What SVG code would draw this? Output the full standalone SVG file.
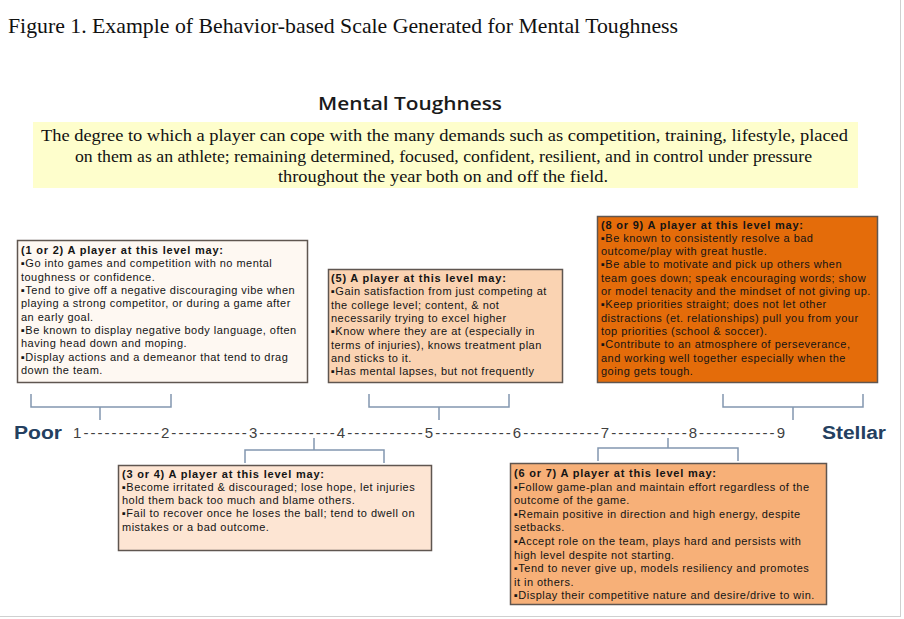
<svg xmlns="http://www.w3.org/2000/svg" width="904" height="619" viewBox="0 0 904 619">
<style>
.box{stroke:#5f5650;stroke-width:1.5}
.t{font-family:"Liberation Sans",Arial,"DejaVu Sans",sans-serif;font-size:11px;fill:#141414;letter-spacing:0.47px}
.h{font-weight:bold;letter-spacing:0.8px}
.br{fill:none;stroke:#8297b0;stroke-width:1.5}
.lbl{font-family:"Liberation Sans",Arial,sans-serif;font-weight:bold;font-size:18px;fill:#243f60}
</style>
<rect x="0" y="0" width="904" height="619" fill="#ffffff"/>
<line x1="900.5" y1="0" x2="900.5" y2="616" stroke="#d0d0d0"/>
<line x1="0" y1="616.5" x2="901" y2="616.5" stroke="#d0d0d0"/>

<g id="title">
<text x="8" y="33" font-family="'Liberation Serif','Times New Roman',serif" font-size="21" fill="#111" textLength="670" lengthAdjust="spacingAndGlyphs">Figure 1. Example of Behavior-based Scale Generated for Mental Toughness</text>
</g>

<g id="heading">
<text x="318" y="110" font-family="'Open Sans','Noto Sans',sans-serif" font-size="18" font-weight="600" fill="#1a1a1a" textLength="184" lengthAdjust="spacingAndGlyphs">Mental Toughness</text>
</g>

<g id="definition">
<rect x="33" y="122" width="825" height="66" fill="#fefecc"/>
<g font-family="'Liberation Serif','Times New Roman',serif" font-size="16" fill="#111">
<text x="41" y="141" textLength="807" lengthAdjust="spacingAndGlyphs">The degree to which a player can cope with the many demands such as competition, training, lifestyle, placed</text>
<text x="75" y="162" textLength="737" lengthAdjust="spacingAndGlyphs">on them as an athlete; remaining determined, focused, confident, resilient, and in control under pressure</text>
<text x="278" y="182" textLength="330" lengthAdjust="spacingAndGlyphs">throughout the year both on and off the field.</text>
</g>
</g>

<g id="box-1-2">
<rect class="box" x="17.5" y="240.5" width="290" height="142" fill="#fef8f2"/>
<text class="t h" x="21" y="254">(1 or 2) A player at this level may:</text>
<text class="t" x="21" y="267.3">▪Go into games and competition with no mental</text>
<text class="t" x="21" y="280.6">toughness or confidence.</text>
<text class="t" x="21" y="294">▪Tend to give off a negative discouraging vibe when</text>
<text class="t" x="21" y="307.3">playing a strong competitor, or during a game after</text>
<text class="t" x="21" y="320.6">an early goal.</text>
<text class="t" x="21" y="334">▪Be known to display negative body language, often</text>
<text class="t" x="21" y="347.3">having head down and moping.</text>
<text class="t" x="21" y="360.6">▪Display actions and a demeanor that tend to drag</text>
<text class="t" x="21" y="374">down the team.</text>
</g>

<g id="box-5">
<rect class="box" x="328.5" y="269.5" width="234" height="113" fill="#fad3b2"/>
<text class="t h" x="331" y="282">(5) A player at this level may:</text>
<text class="t" x="331" y="295.3">▪Gain satisfaction from just competing at</text>
<text class="t" x="331" y="308.6">the college level; content, &amp; not</text>
<text class="t" x="331" y="322">necessarily trying to excel higher</text>
<text class="t" x="331" y="335.3">▪Know where they are at (especially in</text>
<text class="t" x="331" y="348.6">terms of injuries), knows treatment plan</text>
<text class="t" x="331" y="362">and sticks to it.</text>
<text class="t" x="331" y="375.3">▪Has mental lapses, but not frequently</text>
</g>

<g id="box-8-9">
<rect class="box" x="597.5" y="216.5" width="280" height="166" fill="#e46c0a"/>
<text class="t h" x="601" y="228.5">(8 or 9) A player at this level may:</text>
<text class="t" x="601" y="241.8">▪Be known to consistently resolve a bad</text>
<text class="t" x="601" y="255.1">outcome/play with great hustle.</text>
<text class="t" x="601" y="268.4">▪Be able to motivate and pick up others when</text>
<text class="t" x="601" y="281.7">team goes down; speak encouraging words; show</text>
<text class="t" x="601" y="295">or model tenacity and the mindset of not giving up.</text>
<text class="t" x="601" y="308.3">▪Keep priorities straight; does not let other</text>
<text class="t" x="601" y="321.6">distractions (et. relationships) pull you from your</text>
<text class="t" x="601" y="334.9">top priorities (school &amp; soccer).</text>
<text class="t" x="601" y="348.2">▪Contribute to an atmosphere of perseverance,</text>
<text class="t" x="601" y="361.5">and working well together especially when the</text>
<text class="t" x="601" y="374.8">going gets tough.</text>
</g>

<g id="box-3-4">
<rect class="box" x="118.5" y="465.5" width="313" height="85" fill="#fde5d3"/>
<text class="t h" x="122" y="477.5">(3 or 4) A player at this level may:</text>
<text class="t" x="122" y="490.8">▪Become irritated &amp; discouraged; lose hope, let injuries</text>
<text class="t" x="122" y="504.1">hold them back too much and blame others.</text>
<text class="t" x="122" y="517.4">▪Fail to recover once he loses the ball; tend to dwell on</text>
<text class="t" x="122" y="530.7">mistakes or a bad outcome.</text>
</g>

<g id="box-6-7">
<rect class="box" x="510.5" y="463.5" width="316" height="141" fill="#f7b078"/>
<text class="t h" x="514" y="477">(6 or 7) A player at this level may:</text>
<text class="t" x="514" y="490.6">▪Follow game-plan and maintain effort regardless of the</text>
<text class="t" x="514" y="504.2">outcome of the game.</text>
<text class="t" x="514" y="517.8">▪Remain positive in direction and high energy, despite</text>
<text class="t" x="514" y="531.4">setbacks.</text>
<text class="t" x="514" y="545">▪Accept role on the team, plays hard and persists with</text>
<text class="t" x="514" y="558.6">high level despite not starting.</text>
<text class="t" x="514" y="572.2">▪Tend to never give up, models resiliency and promotes</text>
<text class="t" x="514" y="585.8">it in others.</text>
<text class="t" x="514" y="599.4">▪Display their competitive nature and desire/drive to win.</text>
</g>

<g id="scale">
<text class="lbl" x="14" y="439" textLength="48" lengthAdjust="spacingAndGlyphs">Poor</text>
<text class="lbl" x="822" y="439" textLength="64" lengthAdjust="spacingAndGlyphs">Stellar</text>
<text x="73" y="438" font-family="'Liberation Sans',Arial,sans-serif" font-size="15" fill="#404040" textLength="712" lengthAdjust="spacing">1-----------2-----------3-----------4-----------5-----------6-----------7-----------8-----------9</text>
</g>

<g id="connectors">
<path class="br" d="M31,394 V407 H171 V394 M100,407 V420"/>
<path class="br" d="M369,394 V407 H509 V394 M439,407 V420"/>
<path class="br" d="M723,394 V407 H863 V394 M793,407 V420"/>
<path class="br" d="M314,438 V450 M245,463 V450 H384 V463"/>
<path class="br" d="M668,438 V448 M598,461 V448 H738 V461"/>
</g>
</svg>
